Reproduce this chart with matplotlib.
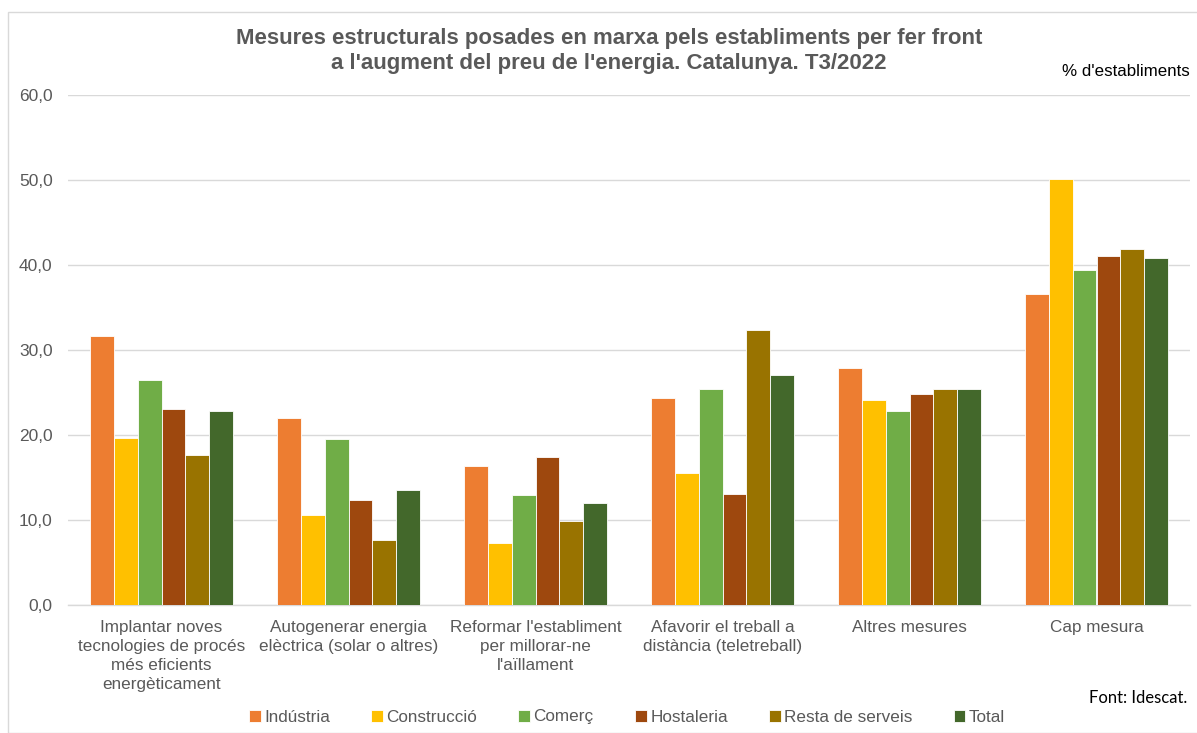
import numpy as np
import matplotlib.pyplot as plt
from matplotlib.patches import Rectangle

# categories and series (percentage of establishments)
categories = [
    "Implantar noves\ntecnologies de procés\nmés eficients\nenergèticament",
    "Autogenerar energia\nelèctrica (solar o altres)",
    "Reformar l'establiment\nper millorar-ne\nl'aïllament",
    "Afavorir el treball a\ndistància (teletreball)",
    "Altres mesures",
    "Cap mesura",
]
series_names = ["Indústria", "Construcció", "Comerç", "Hostaleria", "Resta de serveis", "Total"]
industria = [31.6, 22.0, 16.4, 24.4, 27.9, 36.6]
construccio = [19.6, 10.6, 7.3, 15.5, 24.1, 50.1]
comerc = [26.5, 19.5, 13.0, 25.4, 22.8, 39.4]
hostaleria = [23.1, 12.4, 17.4, 13.1, 24.8, 41.1]
resta_serveis = [17.6, 7.7, 9.9, 32.4, 25.4, 41.9]
total = [22.8, 13.5, 12.0, 27.1, 25.4, 40.8]
colors = ["#ED7D31", "#FFC000", "#70AD47", "#9E480E", "#997300", "#43682B"]

values = [industria, construccio, comerc, hostaleria, resta_serveis, total]

plt.rcParams['font.family'] = ['Liberation Sans', 'DejaVu Sans']
fig = plt.figure(figsize=(11.97, 7.33), dpi=100)
W, H = 1197, 733
ax = fig.add_axes([68 / W, 1 - 605 / H, (1190 - 68) / W, (605 - 95) / H])

x = np.arange(len(categories))
group_w = 0.77
bw = group_w / len(series_names)
for i, (name, vals, c) in enumerate(zip(series_names, values, colors)):
    pos = x - group_w / 2 + bw * (i + 0.5)
    ax.bar(pos, vals, width=bw, color=c, edgecolor="white", linewidth=0.6,
           label=name, zorder=3)

ax.set_xlim(-0.5, len(categories) - 0.5)
ax.set_ylim(0, 60)
ax.set_yticks(np.arange(0, 61, 10))
ax.set_yticklabels([f"{v:.1f}".replace(".", ",") for v in np.arange(0, 61, 10)],
                   fontsize=12.5, color="#595959")
ax.set_xticks(x)
ax.set_xticklabels(categories, fontsize=12.3, color="#595959", linespacing=1.33,
                   va="top")
ax.tick_params(axis="both", length=0)
ax.tick_params(axis="y", pad=11)
ax.tick_params(axis="x", pad=11)
ax.grid(axis="y", color="#D9D9D9", linewidth=1, zorder=0)
for s in ["top", "right", "left"]:
    ax.spines[s].set_visible(False)
ax.spines["bottom"].set_color("#D9D9D9")
ax.spines["bottom"].set_linewidth(1)

fig.text(609 / W, 1 - 51 / H,
         "Mesures estructurals posades en marxa pels establiments per fer front\n"
         "a l'augment del preu de l'energia. Catalunya. T3/2022",
         ha="center", va="center", fontsize=16, fontweight="bold",
         color="#595959", linespacing=1.3)
fig.text(1190 / W, 1 - 72 / H, "% d'establiments", ha="right", va="center",
         fontsize=12.2, color="black")
fig.text(1187 / W, 1 - 698 / H, "Font: Idescat.", ha="right", va="center",
         fontsize=12, color="black", family=["Lato", "DejaVu Sans"])

fig.legend(loc="center", bbox_to_anchor=(627 / W, 1 - 717 / H), ncol=6,
           frameon=False, fontsize=12.3, handlelength=0.7, handleheight=0.7,
           handletextpad=0.2, columnspacing=2.4, labelcolor="#595959")

fig.patches.append(Rectangle((8 / W, 0), 1, 1 - 12 / H, transform=fig.transFigure,
                             fill=False, edgecolor="#D9D9D9", linewidth=1))

fig.savefig("out.png", dpi=100, facecolor="white")
